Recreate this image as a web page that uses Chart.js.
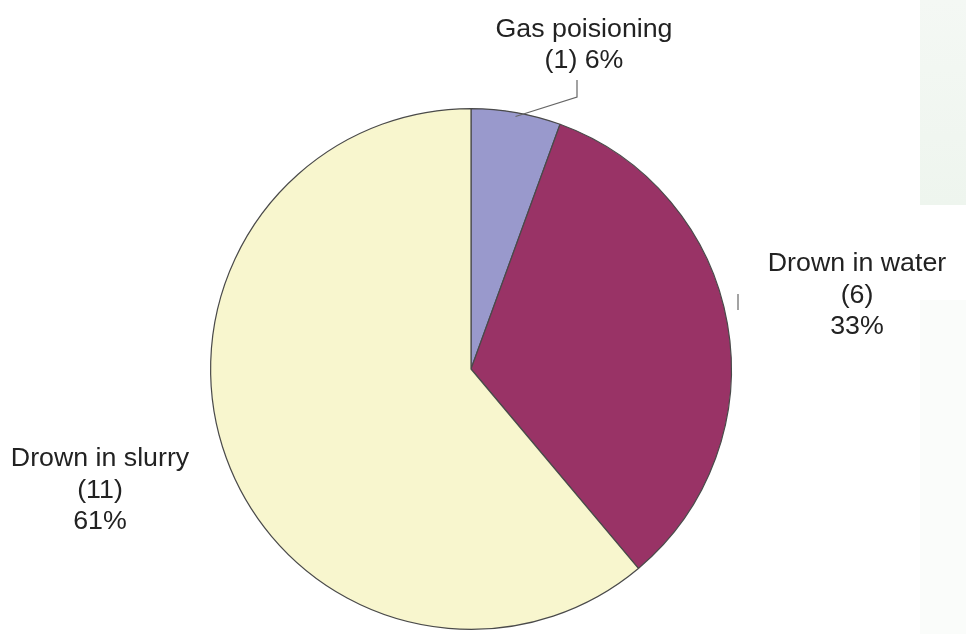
<!DOCTYPE html>
<html>
<head>
<meta charset="utf-8">
<script src="https://cdn.jsdelivr.net/npm/chart.js@4/dist/chart.umd.min.js"></script>
<style>
  html, body { margin: 0; padding: 0; background: #fff; }
  #chartContainer { width: 966px; height: 634px; }
</style>
</head>
<body>
<div id="chartContainer"><canvas id="myChart" width="966" height="634"></canvas></div>
<script>
const categories = ["Gas poisioning", "Drown in water", "Drown in slurry"];
const counts = [1, 6, 11];
const percentLabels = ["6%", "33%", "61%"];
const sliceColors = ["#9999cc", "#993366", "#f8f6ce"];

// label text lines for each slice
function getLabelLines(i) {
  switch (i) {
    case 0: {
      return [categories[0], "(" + counts[0] + ") " + percentLabels[0]];
    }
    default: {
      return [categories[i], "(" + counts[i] + ")", percentLabels[i]];
    }
  }
}

// where each label block sits (center x, first baseline y)
const labelAnchors = [
  { x: 584, y: 37 },
  { x: 857, y: 271 },
  { x: 100, y: 466 },
];

const backdropPlugin = {
  id: "backdrop",
  beforeDraw(chart) {
    const ctx = chart.ctx;
    ctx.save();
    ctx.fillStyle = "#ffffff";
    ctx.fillRect(0, 0, chart.width, chart.height);
    const g = ctx.createLinearGradient(0, 0, 0, 205);
    g.addColorStop(0, "#f4f8f4");
    g.addColorStop(1, "#eef5ee");
    ctx.fillStyle = g;
    ctx.fillRect(920, 0, 46, 205);
    ctx.fillStyle = "#fafcfa";
    ctx.fillRect(920, 300, 46, 334);
    ctx.restore();
  },
};

const labelPlugin = {
  id: "sliceLabels",
  afterDraw(chart) {
    const ctx = chart.ctx;
    const arcs = chart.getDatasetMeta(0).data;
    ctx.save();

    // leader line for the small slice
    const a = arcs[0];
    const mid = (a.startAngle + a.endAngle) / 2;
    const ex = a.x + Math.cos(mid) * (a.outerRadius - 4);
    const ey = a.y + Math.sin(mid) * (a.outerRadius - 4);
    ctx.strokeStyle = "#666";
    ctx.lineWidth = 1.2;
    ctx.beginPath();
    ctx.moveTo(ex, ey);
    ctx.lineTo(577, 97);
    ctx.lineTo(577, 80);
    ctx.stroke();

    // small stub next to the water label
    ctx.beginPath();
    ctx.moveTo(738, 294);
    ctx.lineTo(738, 310);
    ctx.stroke();

    ctx.fillStyle = "#222";
    ctx.font = "25px 'Liberation Sans', Arial, sans-serif";
    ctx.textAlign = "center";
    ctx.textBaseline = "alphabetic";
    labelAnchors.forEach((pos, i) => {
      const lines = getLabelLines(i);
      const lineGap = i === 0 ? 31 : 31.5;
      lines.forEach((line, k) => {
        ctx.save();
        ctx.translate(pos.x, pos.y + k * lineGap);
        ctx.scale(1.07, 1);
        ctx.fillText(line, 0, 0);
        ctx.restore();
      });
    });
    ctx.restore();
  },
};

const chartCanvas = document.querySelector("#myChart");
new Chart(chartCanvas, {
  type: "pie",
  data: {
    labels: categories,
    datasets: [
      {
        data: counts,
        backgroundColor: sliceColors,
        borderColor: "#4a4a4a",
        borderWidth: 1.2,
      },
    ],
  },
  options: {
    responsive: false,
    animation: false,
    layout: {
      padding: { left: 210, right: 234, top: 108, bottom: 4 },
    },
    plugins: {
      legend: { display: false },
      tooltip: { enabled: false },
    },
  },
  plugins: [backdropPlugin, labelPlugin],
});
</script>
</body>
</html>
